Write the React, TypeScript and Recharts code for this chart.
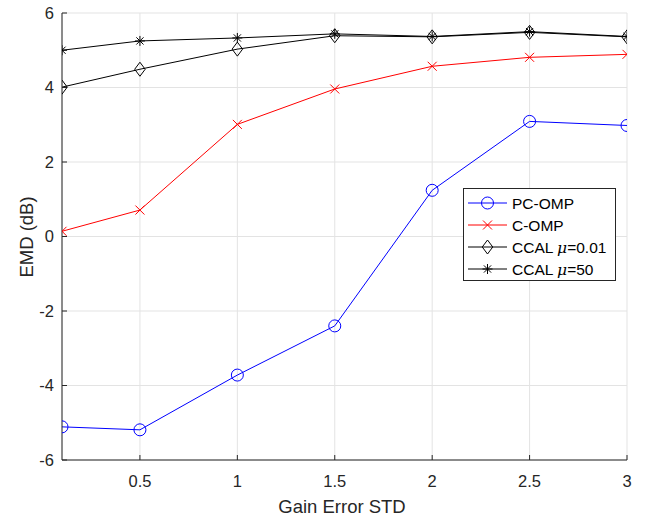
import React from 'react';
import { LineChart, Line, XAxis, YAxis, CartesianGrid } from 'recharts';

const gainStd = [0.1, 0.5, 1, 1.5, 2, 2.5, 3];
const pcOmp = [-5.11, -5.19, -3.72, -2.4, 1.24, 3.09, 2.98];
const cOmp = [0.14, 0.71, 3.01, 3.96, 4.57, 4.81, 4.89];
const ccal001 = [4.01, 4.49, 5.03, 5.39, 5.36, 5.48, 5.36];
const ccal50 = [5.0, 5.25, 5.33, 5.44, 5.37, 5.5, 5.37];
const xTicks = [0.5, 1, 1.5, 2, 2.5, 3];
const yTicks = [-6, -4, -2, 0, 2, 4, 6];

const data = gainStd.map((x, i) => ({
  x,
  pc: pcOmp[i],
  c: cOmp[i],
  ccal1: ccal001[i],
  ccal2: ccal50[i],
}));

const FONT = '"Liberation Sans", Arial, Helvetica, sans-serif';
const BLUE = '#0000FF';
const RED = '#FF0000';

function CircleMark(cx: number, cy: number) {
  return <circle cx={cx} cy={cy} r={6} fill="none" stroke={BLUE} strokeWidth={1} />;
}
function CrossMark(cx: number, cy: number) {
  const s = 4.5;
  return (
    <g stroke={RED} strokeWidth={1}>
      <line x1={cx - s} y1={cy - s} x2={cx + s} y2={cy + s} />
      <line x1={cx - s} y1={cy + s} x2={cx + s} y2={cy - s} />
    </g>
  );
}
function DiamondMark(cx: number, cy: number) {
  const s = 7;
  return (
    <polygon
      points={`${cx},${cy - s} ${cx + s * 0.75},${cy} ${cx},${cy + s} ${cx - s * 0.75},${cy}`}
      fill="none"
      stroke="#000"
      strokeWidth={1}
    />
  );
}
function StarMark(cx: number, cy: number) {
  const s = 5;
  const d = s * 0.72;
  return (
    <g stroke="#000" strokeWidth={1}>
      <line x1={cx - s} y1={cy} x2={cx + s} y2={cy} />
      <line x1={cx} y1={cy - s} x2={cx} y2={cy + s} />
      <line x1={cx - d} y1={cy - d} x2={cx + d} y2={cy + d} />
      <line x1={cx - d} y1={cy + d} x2={cx + d} y2={cy - d} />
    </g>
  );
}

const dotFn = (mark: (cx: number, cy: number) => React.ReactElement) => (props: any) => (
  <g key={`${props.dataKey}-${props.index}`}>{mark(props.cx, props.cy)}</g>
);

const legendItems = [
  { label: 'PC-OMP', color: BLUE, mark: CircleMark },
  { label: 'C-OMP', color: RED, mark: CrossMark },
  { label: 'CCAL ', mu: '=0.01', color: '#000', mark: DiamondMark },
  { label: 'CCAL ', mu: '=50', color: '#000', mark: StarMark },
];

function LegendBox() {
  return (
    <svg width={154} height={93} style={{ display: 'block', fontFamily: FONT }}>
      <rect x={0.5} y={0.5} width={152} height={92} fill="#fff" stroke="#262626" strokeWidth={1} />
      {legendItems.map((it, i) => {
        const y = 15 + i * 22;
        return (
          <g key={it.label + i}>
            <line x1={5} y1={y} x2={44} y2={y} stroke={it.color} strokeWidth={1} />
            {it.mark(24.5, y)}
            <text x={49} y={y + 5.5} fontSize={15.5} fill="#000">
              {it.label}
              {it.mu !== undefined && (
                <>
                  <tspan fontStyle="italic" fontFamily='"DejaVu Serif", serif'>μ</tspan>
                  <tspan>{it.mu}</tspan>
                </>
              )}
            </text>
          </g>
        );
      })}
    </svg>
  );
}

export default function App() {
  return (
    <div style={{ position: 'absolute', left: 0, top: 0, width: 647, height: 517, background: '#fff' }}>
      <LineChart
        width={647}
        height={517}
        data={data}
        margin={{ top: 13, right: 20, left: 22, bottom: 17 }}
        style={{ fontFamily: FONT }}
      >
        <CartesianGrid stroke="#e3e3e3" strokeWidth={1} />
        <XAxis
          dataKey="x"
          type="number"
          domain={[0.1, 3]}
          ticks={xTicks}
          allowDataOverflow
          height={40}
          axisLine={{ stroke: '#262626' }}
          tickLine={{ stroke: '#262626' }}
          tickSize={-5}
          tickMargin={20}
          tick={{ fill: '#262626', fontSize: 16.5 }}
          label={() => (
            <text x={342} y={513} textAnchor="middle" fontSize={18.5} fill="#262626" fontFamily={FONT}>
              Gain Error STD
            </text>
          )}
        />
        <YAxis
          type="number"
          domain={[-6, 6]}
          ticks={yTicks}
          width={40}
          axisLine={{ stroke: '#262626' }}
          tickLine={{ stroke: '#262626' }}
          tickSize={-5}
          tickMargin={13}
          tick={{ fill: '#262626', fontSize: 16.5 }}
          label={() => (
            <text
              x={0}
              y={0}
              transform="translate(33,237) rotate(-90)"
              textAnchor="middle"
              fontSize={18.5}
              fill="#262626"
              fontFamily={FONT}
            >
              EMD (dB)
            </text>
          )}
        />
        <Line dataKey="pc" stroke={BLUE} strokeWidth={1} dot={dotFn(CircleMark)} isAnimationActive={false} />
        <Line dataKey="c" stroke={RED} strokeWidth={1} dot={dotFn(CrossMark)} isAnimationActive={false} />
        <Line dataKey="ccal1" stroke="#000" strokeWidth={1} dot={dotFn(DiamondMark)} isAnimationActive={false} />
        <Line dataKey="ccal2" stroke="#000" strokeWidth={1} dot={dotFn(StarMark)} isAnimationActive={false} />
      </LineChart>
      <div style={{ position: 'absolute', left: 463, top: 188 }}>
        <LegendBox />
      </div>
    </div>
  );
}
